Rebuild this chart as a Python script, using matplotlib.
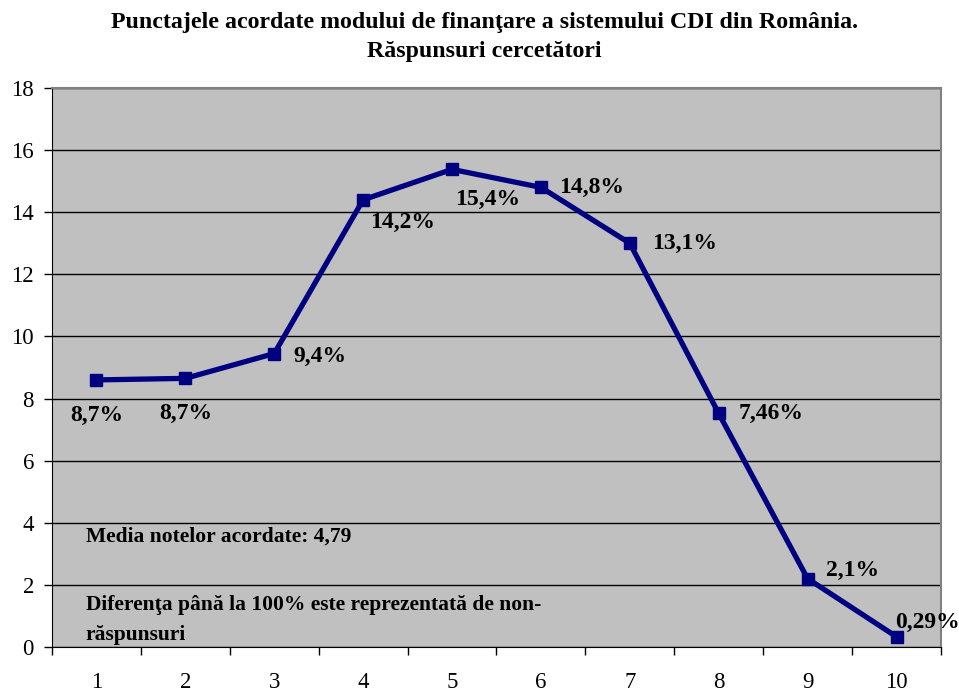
import numpy as np
import matplotlib.pyplot as plt
from matplotlib.ticker import FixedLocator
from matplotlib.patches import Rectangle

categories = [1, 2, 3, 4, 5, 6, 7, 8, 9, 10]
values = [8.6, 8.65, 9.45, 14.4, 15.38, 14.8, 13.0, 7.52, 2.2, 0.33]
labels = ["8,7%", "8,7%", "9,4%", "14,2%", "15,4%", "14,8%", "13,1%", "7,46%", "2,1%", "0,29%"]
# label offsets in points (dx, dy) and alignment
offsets = [(0, -18, "center", "top"), (0, -18, "center", "top"), (14, -2, "left", "center"),
           (5, -9, "left", "top"), (2, -14, "left", "top"), (13, 0, "left", "center"),
           (16, 0, "left", "center"), (14, 0, "left", "center"), (13, 6, "left", "center"),
           (-1, 10, "left", "center")]

plt.rcParams['font.family'] = ['Liberation Serif', 'DejaVu Serif']

fig = plt.figure(figsize=(9.59, 6.88), dpi=100)
ax = fig.add_axes([0.0542, 0.0596, 0.927, 0.8125])
ax.set_facecolor("#C0C0C0")

ax.plot(categories, values, color="#000080", linewidth=3.8, marker="s",
        markersize=9, zorder=3)

for x, y, t, (dx, dy, ha, va) in zip(categories, values, labels, offsets):
    ax.annotate(t, (x, y), xytext=(dx, dy), textcoords="offset points",
                ha=ha, va=va, fontsize=17, fontweight="bold", zorder=4,
                annotation_clip=False)

ax.set_xlim(0.5, 10.5)
ax.set_ylim(0, 18)
ax.set_yticks(np.arange(0, 19, 2))
ax.yaxis.grid(True, color="black", linewidth=1)
ax.set_axisbelow(True)

ax.set_xticks(categories)
ax.xaxis.set_minor_locator(FixedLocator(np.arange(0.5, 11, 1)))
ax.tick_params(axis="x", which="major", length=0, pad=18, labelsize=16.5)
ax.tick_params(axis="x", which="minor", length=6, width=1, direction="out")
ax.tick_params(axis="y", length=6, width=1, labelsize=16.5, pad=7)

ax.spines["top"].set_color("#808080")
ax.spines["right"].set_color("#808080")
ax.spines["top"].set_linewidth(1.5)
ax.spines["right"].set_linewidth(1.5)

ax.text(0.038, 0.198, "Media notelor acordate: 4,79", transform=ax.transAxes,
        fontsize=15.5, fontweight="bold", va="center", ha="left")
ax.text(0.038, 0.075, "Diferenţa până la 100% este reprezentată de non-",
        transform=ax.transAxes, fontsize=15.5, fontweight="bold", va="center", ha="left")
# second line is partly hidden by the text box edge in the original
box = Rectangle((0, 0.019), 1, 1, transform=ax.transAxes, visible=False)
ax.add_patch(box)
t2 = ax.text(0.038, 0.021, "răspunsuri", transform=ax.transAxes,
             fontsize=15.5, fontweight="bold", va="center", ha="left")
t2.set_clip_path(box)

fig.suptitle("Punctajele acordate modului de finanţare a sistemului CDI din România.\nRăspunsuri cercetători",
             x=0.505, y=0.983, fontsize=17.2, fontweight="bold", linespacing=1.5)

plt.savefig("out.png", dpi=100)
